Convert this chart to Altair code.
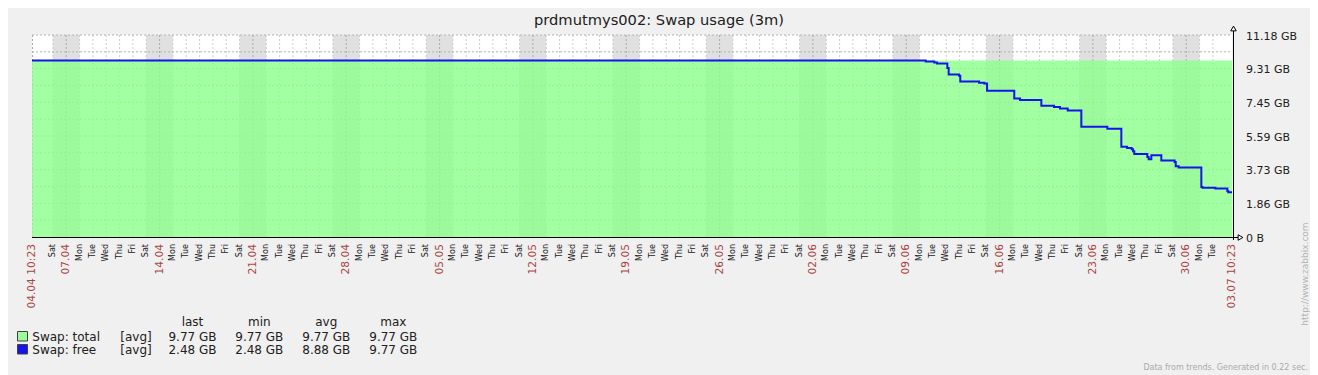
import altair as alt
import pandas as pd

# ---------------- data ----------------
title_text = "prdmutmys002: Swap usage (3m)"
start_label = "04.04 10:23"
end_label = "03.07 10:23"
period_start = "2019-04-04 10:23"
span_days = 90

# Swap: total (flat)
total_days = [0, 90]
total_gb = [9.77, 9.77]

# Swap: free  (days since 04.04 10:23, GB)
free_days = [0, 67.03, 67.67, 67.88, 68.65, 68.75, 69.53, 69.62, 71.03, 71.42,
             71.63, 73.67, 74.10, 75.70, 76.65, 77.10, 77.68, 78.70, 80.65, 81.70,
             82.13, 82.48, 82.58, 82.67, 83.65, 83.75, 83.95, 84.70, 85.70, 85.78,
             86.00, 87.70, 87.78, 88.75, 89.65, 89.72, 90]
free_gb = [9.77, 9.71, 9.66, 9.60, 9.36, 8.99, 8.93, 8.61, 8.54, 8.49,
           8.10, 7.67, 7.58, 7.26, 7.19, 7.11, 7.00, 6.10, 5.99, 4.99,
           4.93, 4.86, 4.75, 4.60, 4.43, 4.30, 4.52, 4.24, 4.15, 3.92,
           3.85, 2.77, 2.72, 2.68, 2.55, 2.48, 2.48]

y_max = 11.18
y_tick_gb = [0, 1.8633, 3.7267, 5.59, 7.4533, 9.3167, 11.18]
y_tick_labels = ["0 B", "1.86 GB", "3.73 GB", "5.59 GB", "7.45 GB", "9.31 GB", "11.18 GB"]
y_grid_gb = [0.9317, 1.8633, 2.795, 3.7267, 4.6583, 5.59, 6.5217, 7.4533,
             8.385, 9.3167, 10.2483, 11.18]

day_names = ["Mon", "Tue", "Wed", "Thu", "Fri", "Sat", "Sun"]
first_tick_day = "2019-04-06"
last_tick_day = "2019-07-02"

legend_names = ["Swap: total", "Swap: free"]
legend_func = ["[avg]", "[avg]"]
legend_headers = ["last", "min", "avg", "max"]
legend_last = ["9.77 GB", "2.48 GB"]
legend_min = ["9.77 GB", "2.48 GB"]
legend_avg = ["9.77 GB", "8.88 GB"]
legend_max = ["9.77 GB", "9.77 GB"]
legend_colors = ["#9cfc9c", "#1414ee"]

watermark = "http://www.zabbix.com"
footer = "Data from trends. Generated in 0.22 sec."

# ---------------- derived tables ----------------
FONT = "DejaVu Sans"
start = pd.Timestamp(period_start)
mids = pd.date_range(first_tick_day, last_tick_day, freq="D")
one_day = pd.Timedelta(days=1)
ticks = pd.DataFrame({
    "d": [(m - start) / one_day for m in mids],
    "label": [m.strftime("%d.%m") if m.dayofweek == 6 else day_names[m.dayofweek] for m in mids],
    "kind": ["main" if m.dayofweek == 6 else "minor" for m in mids],
})
sats = [m for m in mids if m.dayofweek == 5]
weekends = pd.DataFrame({
    "d0": [(m - start) / one_day for m in sats],
    "d1": [(m - start) / one_day + 2 for m in sats],
})
edges = pd.DataFrame({"d": [0, span_days], "label": [start_label, end_label]})
total_df = pd.DataFrame({"d": total_days, "v": total_gb})
free_df = pd.DataFrame({"d": free_days, "v": free_gb})
ytick_df = pd.DataFrame({"v": y_tick_gb, "t": y_tick_labels})
ygrid_df = pd.DataFrame({"v": y_grid_gb})
one = pd.DataFrame({"a": [0]})

W, H = 1200, 202
xs = alt.Scale(domain=[0, span_days], nice=False, zero=False)
ys = alt.Scale(domain=[0, y_max], nice=False, zero=True)

layers = []

# weekend shading
layers.append(alt.Chart(weekends).mark_rect(color="#e0e0e0").encode(
    x=alt.X("d0:Q", scale=xs, axis=None), x2="d1:Q",
    y=alt.value(0), y2=alt.value(H)))

# vertical grid
layers.append(alt.Chart(ticks).mark_rule(strokeDash=[2, 2], strokeWidth=1).encode(
    x=alt.X("d:Q", scale=xs, axis=None),
    y=alt.value(0), y2=alt.value(H),
    color=alt.Color("kind:N", scale=alt.Scale(domain=["main", "minor"], range=["#aaaaaa", "#cccccc"]), legend=None)))
# left border
layers.append(alt.Chart(one).mark_rule(strokeDash=[2, 2], color="#aaaaaa").encode(
    x=alt.value(0.5), y=alt.value(0), y2=alt.value(H)))

# horizontal grid
layers.append(alt.Chart(ygrid_df).mark_rule(strokeDash=[2, 2], color="#b4b4b4").encode(
    y=alt.Y("v:Q", scale=ys, axis=None), x=alt.value(0), x2=alt.value(W)))

# total area
layers.append(alt.Chart(total_df).mark_area(color="#8bff8b", opacity=0.8).encode(
    x=alt.X("d:Q", scale=xs, axis=None), y=alt.Y("v:Q", scale=ys, axis=None)))

# free line
layers.append(alt.Chart(free_df).mark_line(color="#1414ee", strokeWidth=2, interpolate="step-after").encode(
    x=alt.X("d:Q", scale=xs, axis=None), y=alt.Y("v:Q", scale=ys, axis=None)))

# axis lines
layers.append(alt.Chart(one).mark_rule(color="#000000").encode(
    x=alt.value(0), x2=alt.value(W + 6), y=alt.value(H + 0.5)))
layers.append(alt.Chart(one).mark_rule(color="#000000").encode(
    x=alt.value(W + 1.5), y=alt.value(-5), y2=alt.value(H + 3)))
layers.append(alt.Chart(one).mark_point(shape="triangle-up", size=30, filled=True, fill="white",
                                         stroke="black", strokeWidth=1, opacity=1).encode(
    x=alt.value(W + 1.5), y=alt.value(-6.5)))
layers.append(alt.Chart(one).mark_point(shape="triangle-right", size=30, filled=True, fill="white",
                                         stroke="black", strokeWidth=1, opacity=1).encode(
    x=alt.value(W + 8.5), y=alt.value(H + 0.5)))

# y labels
layers.append(alt.Chart(ytick_df).mark_text(align="left", baseline="alphabetic", dy=4.5,
                                             fontSize=11, font=FONT, color="#202020").encode(
    x=alt.value(W + 14), y=alt.Y("v:Q", scale=ys, axis=None), text="t:N"))

# x labels
days_df = ticks[ticks["kind"] == "minor"]
dates_df = ticks[ticks["kind"] == "main"]
layers.append(alt.Chart(days_df).mark_text(angle=270, align="right", baseline="middle",
                                           fontSize=8, font=FONT, color="#202020").encode(
    x=alt.X("d:Q", scale=xs, axis=None), y=alt.value(H + 7), text="label:N"))
layers.append(alt.Chart(dates_df).mark_text(angle=270, align="right", baseline="middle",
                                            fontSize=10.67, font=FONT, color="#aa4444").encode(
    x=alt.X("d:Q", scale=xs, axis=None), y=alt.value(H + 7), text="label:N"))
layers.append(alt.Chart(edges).mark_text(angle=270, align="right", baseline="middle",
                                         fontSize=10.67, font=FONT, color="#aa4444").encode(
    x=alt.X("d:Q", scale=xs, axis=None), y=alt.value(H + 7), text="label:N"))

# title
layers.append(alt.Chart(pd.DataFrame({"t": [title_text]})).mark_text(
    align="center", baseline="alphabetic", fontSize=14.67, font=FONT, color="#202020").encode(
    x=alt.value(627), y=alt.value(-10), text="t:N"))

# legend
hdr_x = [160.5, 227.3, 294.3, 361.3]
for hx, h in zip(hdr_x, legend_headers):
    layers.append(alt.Chart(pd.DataFrame({"t": [h]})).mark_text(
        align="center", baseline="alphabetic", fontSize=12, font=FONT, color="#202020").encode(
        x=alt.value(hx), y=alt.value(291), text="t:N"))
for i in range(len(legend_names)):
    base = 305.5 + 13.5 * i
    top = 296.5 + 13.0 * i
    layers.append(alt.Chart(one).mark_rect(fill=legend_colors[i], stroke="#404040", strokeWidth=1).encode(
        x=alt.value(-14.5), x2=alt.value(-4.5), y=alt.value(top), y2=alt.value(top + 9.5)))
    layers.append(alt.Chart(pd.DataFrame({"t": [legend_names[i]]})).mark_text(
        align="left", baseline="alphabetic", fontSize=12, font=FONT, color="#202020").encode(
        x=alt.value(0.3), y=alt.value(base), text="t:N"))
    layers.append(alt.Chart(pd.DataFrame({"t": [legend_func[i]]})).mark_text(
        align="center", baseline="alphabetic", fontSize=12, font=FONT, color="#202020").encode(
        x=alt.value(104), y=alt.value(base), text="t:N"))
    for hx, col in zip(hdr_x, [legend_last, legend_min, legend_avg, legend_max]):
        layers.append(alt.Chart(pd.DataFrame({"t": [col[i]]})).mark_text(
            align="center", baseline="alphabetic", fontSize=12, font=FONT, color="#202020").encode(
            x=alt.value(hx), y=alt.value(base), text="t:N"))

# watermark + footer
layers.append(alt.Chart(pd.DataFrame({"t": [watermark]})).mark_text(
    angle=270, align="center", baseline="middle", fontSize=9, font=FONT, color="#b4b4b4").encode(
    x=alt.value(1273), y=alt.value(239), text="t:N"))
layers.append(alt.Chart(pd.DataFrame({"t": [footer]})).mark_text(
    align="right", baseline="alphabetic", fontSize=8, font=FONT, color="#aaaaaa").encode(
    x=alt.value(1276), y=alt.value(335), text="t:N"))

chart = alt.layer(*layers).properties(
    width=W, height=H, background="#f0f0f0",
    padding={"left": 24, "top": 27, "right": 78, "bottom": 138},
    autosize=alt.AutoSizeParams(type="none"),
).configure_view(stroke=None, fill="white")

chart.save("out.html", embed_options={"renderer": "svg", "actions": False})
